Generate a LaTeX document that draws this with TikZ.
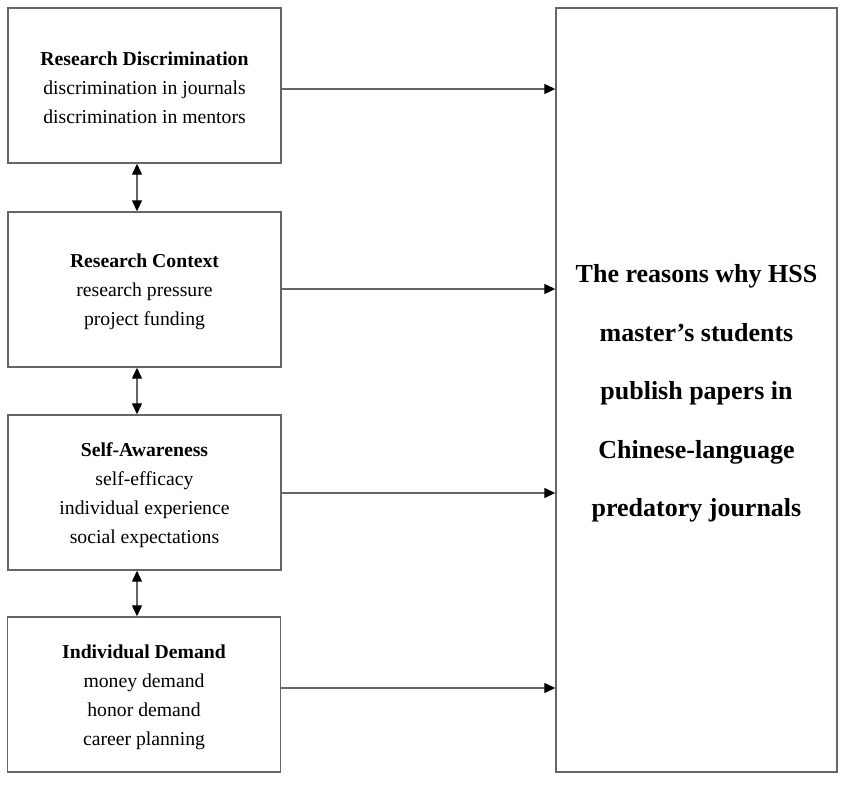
\documentclass[tikz,border=0pt]{standalone}
\usepackage{fontspec}
\setmainfont{Liberation Serif}
\usetikzlibrary{arrows.meta}
\begin{document}
\begin{tikzpicture}[x=1pt,y=-1pt,
  box/.style={draw=black!60,line width=1.4pt,minimum width=273pt,minimum height=155pt,inner sep=0pt},
  txt/.style={align=center,inner sep=0pt,font=\fontsize{19.7}{29}\selectfont,yshift=-2.5pt},
  big/.style={draw=black!60,line width=1.4pt,minimum width=281pt,minimum height=764pt,inner sep=0pt},
  bigtxt/.style={align=center,inner sep=0pt,font=\fontsize{26}{58.5}\selectfont\bfseries,yshift=-3.5pt},
  arr/.style={draw=black!60,line width=1.3pt,-{Triangle[length=11pt,width=10pt,black]}},
  darr/.style={draw=black!60,line width=1.3pt,{Triangle[length=11pt,width=10pt,black]}-{Triangle[length=11pt,width=10pt,black]}}]
\useasboundingbox (0,0) rectangle (848,784);
\node[box,label={[txt]center:{\textbf{Research Discrimination}\\discrimination in journals\\discrimination in mentors}}] (b1) at (144.5,85.5) {};
\node[box,label={[txt]center:{\textbf{Research Context}\\research pressure\\project funding}}] (b2) at (144.5,289.5) {};
\node[box,label={[txt]center:{\textbf{Self-Awareness}\\self-efficacy\\individual experience\\social expectations}}] (b3) at (144.5,492.5) {};
\node[box,label={[txt]center:{\textbf{Individual Demand}\\money demand\\honor demand\\career planning}}] (b4) at (144,694.5) {};
\node[big,label={[bigtxt]center:{The reasons why HSS\\master’s students\\publish papers in\\Chinese-language\\predatory journals}}] (R) at (696.5,390) {};
\draw[darr] ([xshift=-7.5pt]b1.south) -- ([xshift=-7.5pt]b1.south |- b2.north);
\draw[darr] ([xshift=-7.5pt]b2.south) -- ([xshift=-7.5pt]b2.south |- b3.north);
\draw[darr] ([xshift=-7.5pt]b3.south) -- ([xshift=-7.5pt]b3.south |- b4.north);
\draw[arr] ([yshift=-3.5pt]b1.east) -- ([yshift=-3.5pt]b1.east -| R.west);
\draw[arr] ([yshift=0.5pt]b2.east) -- ([yshift=0.5pt]b2.east -| R.west);
\draw[arr] ([yshift=-0.5pt]b3.east) -- ([yshift=-0.5pt]b3.east -| R.west);
\draw[arr] ([yshift=6.5pt]b4.east) -- ([yshift=6.5pt]b4.east -| R.west);
\end{tikzpicture}
\end{document}
